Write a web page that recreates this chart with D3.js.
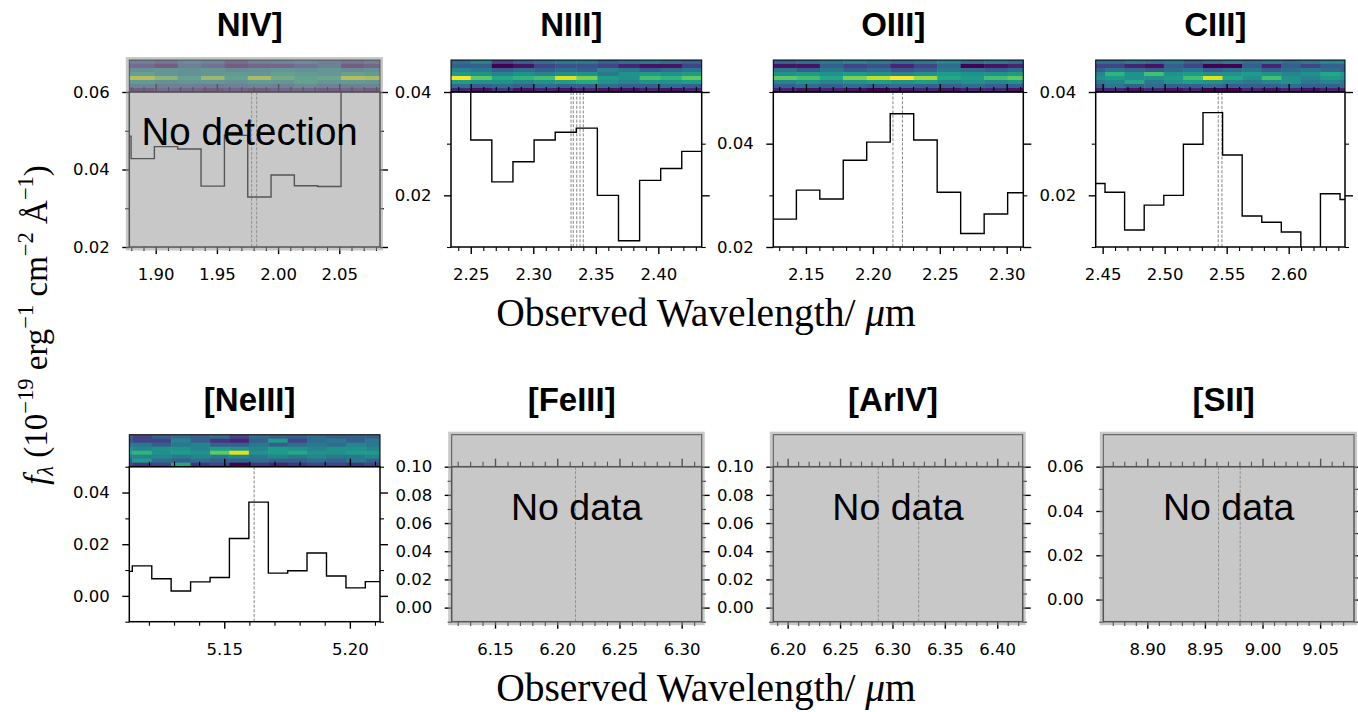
<!DOCTYPE html>
<html><head><meta charset="utf-8">
<script src="https://cdn.jsdelivr.net/npm/d3@7"></script>
<style>body{margin:0;background:#fff}svg{display:block}</style>
</head><body><svg id="c" width="1358" height="712"></svg>
<script>
// ---------------- DATA ----------------
const titles = ["NIV]", "NIII]", "OIII]", "CIII]", "[NeIII]", "[FeIII]", "[ArIV]", "[SII]"];
const notes = ["No detection", null, null, null, null, "No data", "No data", "No data"];

// spectra: bin centres (µm) and flux (1e-19 erg/s/cm2/Å)
const wlNIV   = [1.8703, 1.8894, 1.9084, 1.9275, 1.9466, 1.9657, 1.9847, 2.0038, 2.0228, 2.0419, 2.0610, 2.0800];
const fluxNIV = [0.0486, 0.0428, 0.0459, 0.0453, 0.0357, 0.0488, 0.0329, 0.0386, 0.0358, 0.0356, 0.0680, 0.0680];
const wlNIII   = [2.2416, 2.2584, 2.2753, 2.2922, 2.3091, 2.3260, 2.3428, 2.3597, 2.3766, 2.3935, 2.4103, 2.4272];
const fluxNIII = [0.0450, 0.0307, 0.0226, 0.0265, 0.0307, 0.0322, 0.0330, 0.0200, 0.0112, 0.0229, 0.0252, 0.0285];
const wlOIII   = [2.1341, 2.1516, 2.1691, 2.1866, 2.2042, 2.2217, 2.2393, 2.2568, 2.2744, 2.2919, 2.3095];
const fluxOIII = [0.0254, 0.0310, 0.0293, 0.0368, 0.0403, 0.0458, 0.0407, 0.0306, 0.0226, 0.0264, 0.0305];
const wlCIII   = [2.4440, 2.4598, 2.4756, 2.4914, 2.5072, 2.5230, 2.5388, 2.5546, 2.5704, 2.5862, 2.6019, 2.6177, 2.6335, 2.6493];
const fluxCIII = [0.0223, 0.0206, 0.0133, 0.0181, 0.0200, 0.0299, 0.0360, 0.0278, 0.0160, 0.0148, 0.0129, 0.0080, 0.0203, 0.0192];
const wlNeIII   = [5.1095, 5.1173, 5.1250, 5.1327, 5.1405, 5.1482, 5.1559, 5.1637, 5.1714, 5.1791, 5.1868, 5.1946, 5.2023, 5.2100];
const fluxNeIII = [0.0095, 0.0116, 0.0066, 0.0019, 0.0054, 0.0071, 0.0222, 0.0363, 0.0088, 0.0097, 0.0166, 0.0077, 0.0031, 0.0055];

// 2D spectrum cutouts (normalised 0-1), rows top->bottom, one column per bin
const heatNIV = [
  [0.30,0.30,0.20,0.40,0.35,0.15,0.30,0.35,0.40,0.30,0.20,0.30],
  [0.10,0.15,0.05,0.30,0.20,0.05,0.10,0.10,0.20,0.30,0.05,0.10],
  [0.40,0.45,0.50,0.45,0.50,0.40,0.45,0.50,0.45,0.50,0.40,0.45],
  [0.55,0.60,0.50,0.45,0.50,0.55,0.50,0.60,0.55,0.50,0.60,0.55],
  [0.90,0.95,0.80,0.60,0.85,0.60,0.90,0.70,0.60,0.65,0.95,0.90],
  [0.50,0.55,0.45,0.50,0.50,0.45,0.55,0.50,0.60,0.50,0.55,0.50],
  [0.30,0.35,0.30,0.30,0.25,0.30,0.35,0.30,0.40,0.30,0.30,0.35],
  [0.10,0.05,0.15,0.10,0.05,0.10,0.05,0.10,0.10,0.05,0.10,0.05]];
const heatNIII = [
  [0.35,0.45,0.20,0.30,0.35,0.40,0.40,0.30,0.35,0.40,0.35,0.30],
  [0.30,0.30,0.00,0.05,0.20,0.25,0.25,0.20,0.10,0.05,0.05,0.20],
  [0.45,0.40,0.30,0.35,0.30,0.35,0.30,0.45,0.40,0.30,0.35,0.40],
  [0.55,0.50,0.45,0.50,0.45,0.50,0.50,0.40,0.50,0.55,0.50,0.55],
  [1.00,0.75,0.60,0.65,0.70,0.95,0.80,0.55,0.50,0.70,0.65,0.75],
  [0.55,0.50,0.50,0.45,0.50,0.55,0.60,0.50,0.45,0.50,0.50,0.55],
  [0.35,0.30,0.35,0.30,0.35,0.30,0.30,0.35,0.30,0.30,0.35,0.30],
  [0.10,0.05,0.15,0.05,0.10,0.05,0.10,0.05,0.05,0.10,0.05,0.10]];
const heatOIII = [
  [0.30,0.35,0.40,0.45,0.40,0.35,0.40,0.45,0.35,0.40,0.35],
  [0.05,0.05,0.30,0.20,0.25,0.10,0.20,0.35,0.00,0.05,0.10],
  [0.40,0.30,0.40,0.30,0.35,0.25,0.30,0.40,0.35,0.30,0.35],
  [0.50,0.55,0.50,0.55,0.50,0.45,0.50,0.55,0.50,0.50,0.55],
  [0.75,0.70,0.60,0.80,0.90,1.00,0.85,0.60,0.55,0.70,0.75],
  [0.45,0.50,0.45,0.50,0.55,0.50,0.55,0.45,0.50,0.45,0.50],
  [0.30,0.35,0.30,0.35,0.30,0.35,0.30,0.30,0.35,0.30,0.30],
  [0.10,0.05,0.10,0.05,0.00,0.05,0.10,0.05,0.10,0.10,0.05]];
const heatCIII = [
  [0.35,0.35,0.40,0.35,0.40,0.30,0.35,0.40,0.35,0.40,0.35,0.40,0.45,0.45],
  [0.20,0.20,0.10,0.05,0.30,0.20,0.00,0.00,0.30,0.10,0.30,0.20,0.30,0.30],
  [0.30,0.40,0.35,0.30,0.35,0.40,0.30,0.35,0.40,0.30,0.35,0.40,0.35,0.30],
  [0.45,0.65,0.50,0.70,0.50,0.55,0.50,0.50,0.55,0.50,0.45,0.50,0.60,0.55],
  [0.50,0.55,0.50,0.50,0.55,0.70,0.95,0.60,0.50,0.70,0.50,0.45,0.55,0.50],
  [0.40,0.45,0.60,0.40,0.50,0.55,0.50,0.45,0.40,0.45,0.50,0.40,0.45,0.40],
  [0.30,0.40,0.30,0.35,0.30,0.30,0.35,0.30,0.30,0.30,0.35,0.30,0.30,0.35],
  [0.10,0.10,0.05,0.10,0.05,0.10,0.00,0.00,0.10,0.05,0.10,0.05,0.10,0.10]];
const heatNeIII = [
  [0.30,0.20,0.30,0.35,0.30,0.35,0.20,0.35,0.30,0.30,0.35,0.30,0.30,0.30],
  [0.25,0.20,0.20,0.45,0.30,0.15,0.10,0.30,0.55,0.20,0.35,0.40,0.30,0.40],
  [0.35,0.40,0.30,0.40,0.45,0.30,0.30,0.40,0.30,0.35,0.40,0.35,0.45,0.40],
  [0.50,0.45,0.50,0.50,0.45,0.55,0.50,0.45,0.55,0.50,0.45,0.50,0.50,0.45],
  [0.55,0.65,0.50,0.55,0.50,0.75,0.95,0.50,0.55,0.60,0.50,0.50,0.55,0.55],
  [0.40,0.45,0.45,0.40,0.45,0.40,0.45,0.40,0.45,0.40,0.45,0.40,0.40,0.45],
  [0.30,0.55,0.35,0.30,0.35,0.30,0.30,0.35,0.30,0.30,0.35,0.30,0.40,0.30],
  [0.20,0.15,0.20,0.60,0.15,0.20,0.00,0.15,0.10,0.15,0.20,0.20,0.15,0.20]];

// expected line positions (µm)
const markNIV   = [1.9784, 1.9825];
const markNIII  = [2.3302, 2.3320, 2.3348, 2.3374, 2.3400];
const markOIII  = [2.2150, 2.2221];
const markCIII  = [2.5432, 2.5462];
const markNeIII = [5.1619];
const markFeIII = [6.2147];
const markArIV  = [6.2865, 6.3250];
const markSII   = [8.9618, 8.9806];

// axis tick labels
const xTicksNIV = [1.90, 1.95, 2.00, 2.05];
const xTicksNIII = [2.25, 2.30, 2.35, 2.40];
const xTicksOIII = [2.15, 2.20, 2.25, 2.30];
const xTicksCIII = [2.45, 2.50, 2.55, 2.60];
const xTicksNeIII = [5.15, 5.20];
const xTicksFeIII = [6.15, 6.20, 6.25, 6.30];
const xTicksArIV = [6.20, 6.25, 6.30, 6.35, 6.40];
const xTicksSII = [8.90, 8.95, 9.00, 9.05];
const yTicksNIV = [0.02, 0.04, 0.06];
const yTicksNIII = [0.02, 0.04];
const yTicksOIII = [0.02, 0.04];
const yTicksCIII = [0.02, 0.04];
const yTicksNeIII = [0.00, 0.02, 0.04];
const yTicksFeIII = [0.00, 0.02, 0.04, 0.06, 0.08, 0.10];
const yTicksArIV = [0.00, 0.02, 0.04, 0.06, 0.08, 0.10];
const yTicksSII = [0.00, 0.02, 0.04, 0.06];

const xLabel = "Observed Wavelength/ ";

// ---------------- LAYOUT ----------------
const rowTop = [92, 466.7], plotH = 155, heatH = 32;
const panels = [
  {x0:129.3, x1:380,    row:0, xd:[1.8784,2.0833], yd:[0.02,0.06],  wl:wlNIV,   fl:fluxNIV,   heat:heatNIV,   mark:markNIV,   xt:xTicksNIV,   yt:yTicksNIV,   gray:true, noteDx:-5},
  {x0:451,   x1:701.7,  row:0, xd:[2.2342,2.4347], yd:[0.01,0.04],  wl:wlNIII,  fl:fluxNIII,  heat:heatNIII,  mark:markNIII,  xt:xTicksNIII,  yt:yTicksNIII},
  {x0:773.3, x1:1023.3, row:0, xd:[2.1256,2.3124], yd:[0.02,0.05],  wl:wlOIII,  fl:fluxOIII,  heat:heatOIII,  mark:markOIII,  xt:xTicksOIII,  yt:yTicksOIII},
  {x0:1095.7,x1:1345,   row:0, xd:[2.4444,2.6454], yd:[0.01,0.04],  wl:wlCIII,  fl:fluxCIII,  heat:heatCIII,  mark:markCIII,  xt:xTicksCIII,  yt:yTicksCIII},
  {x0:129.3, x1:380,    row:1, xd:[5.1122,5.2120], yd:[-0.01,0.05], wl:wlNeIII, fl:fluxNeIII, heat:heatNeIII, mark:markNeIII, xt:xTicksNeIII, yt:yTicksNeIII},
  {x0:451.7, x1:701.7,  row:1, xd:[6.1152,6.3161], yd:[-0.01,0.10], mark:markFeIII, xt:xTicksFeIII, yt:yTicksFeIII, gray:true, noteDx:0},
  {x0:773.3, x1:1022.7, row:1, xd:[6.1863,6.4243], yd:[-0.01,0.10], mark:markArIV,  xt:xTicksArIV,  yt:yTicksArIV,  gray:true, noteDx:0},
  {x0:1103.3,x1:1354,   row:1, xd:[8.8618,9.0794], yd:[-0.01,0.06], mark:markSII,   xt:xTicksSII,   yt:yTicksSII,   gray:true, noteDx:0}
];

const svg = d3.select("#c");
const tickFont = "DejaVu Sans";

function minorVals(d, majors) {
  const a = Math.ceil(d[0] * 100 - 1e-6), b = Math.floor(d[1] * 100 + 1e-6);
  return d3.range(a, b + 1).map(k => k / 100).filter(v => !majors.some(m => Math.abs(m - v) < 1e-6));
}
function edges(xs) {
  const n = xs.length;
  return xs.map((c, i) => {
    const l = i === 0 ? c - (xs[1] - xs[0]) / 2 : (xs[i - 1] + c) / 2;
    const r = i === n - 1 ? c + (c - xs[n - 2]) / 2 : (c + xs[i + 1]) / 2;
    return [l, r];
  });
}
function styleAxis(g, w) {
  g.select(".domain").remove();
  g.selectAll(".tick line").attr("stroke", "#000").attr("stroke-width", w);
  g.selectAll("text").attr("font-family", tickFont).attr("font-size", 16.5).attr("fill", "#000");
}

panels.forEach((p, i) => {
  const top = rowTop[p.row], bottom = top + plotH, heatTop = top - heatH;
  const x = d3.scaleLinear().domain(p.xd).range([p.x0, p.x1]);
  const y = d3.scaleLinear().domain(p.yd).range([bottom, top]);
  const g = svg.append("g");
  const clipId = "clip" + i, hclipId = "hclip" + i;
  svg.append("clipPath").attr("id", clipId).append("rect")
    .attr("x", p.x0).attr("y", top).attr("width", p.x1 - p.x0).attr("height", plotH);
  svg.append("clipPath").attr("id", hclipId).append("rect")
    .attr("x", p.x0).attr("y", heatTop).attr("width", p.x1 - p.x0).attr("height", heatH);

  // heatmap
  if (p.heat) {
    const ed = edges(p.wl);
    const rh = heatH / p.heat.length;
    const hg = g.append("g").attr("clip-path", `url(#${hclipId})`);
    p.heat.forEach((row, r) => {
      hg.selectAll(null).data(row).enter().append("rect")
        .attr("x", (v, c) => x(ed[c][0]))
        .attr("width", (v, c) => x(ed[c][1]) - x(ed[c][0]) + 0.5)
        .attr("y", heatTop + r * rh).attr("height", rh + 0.3)
        .attr("fill", v => d3.interpolateViridis(v));
    });
  }
  g.append("rect").attr("x", p.x0).attr("y", heatTop).attr("width", p.x1 - p.x0).attr("height", heatH)
    .attr("fill", "none").attr("stroke", "#000").attr("stroke-width", 1);

  // line markers
  g.append("g").attr("clip-path", `url(#${clipId})`).selectAll("line").data(p.mark).enter().append("line")
    .attr("x1", d => x(d)).attr("x2", d => x(d)).attr("y1", top).attr("y2", bottom)
    .attr("stroke", "#858585").attr("stroke-width", 1).attr("stroke-dasharray", "3,1.6");

  // spectrum step line
  if (p.wl) {
    const ed = edges(p.wl);
    const pts = [];
    p.fl.forEach((v, k) => { pts.push([ed[k][0], v]); pts.push([ed[k][1], v]); });
    g.append("path").attr("clip-path", `url(#${clipId})`)
      .attr("d", d3.line().x(d => x(d[0])).y(d => y(d[1]))(pts))
      .attr("fill", "none").attr("stroke", "#000").attr("stroke-width", 1.4);
  }

  // axes
  const xMinor = minorVals(p.xd, p.xt), yMinor = minorVals(p.yd, p.yt);
  const fmt = d3.format(".2f");
  g.append("g").attr("transform", `translate(0,${bottom})`)
    .call(d3.axisBottom(x).tickValues(p.xt).tickSize(7).tickPadding(14.5).tickFormat(fmt)).call(a => styleAxis(a, 1.4));
  g.append("g").attr("transform", `translate(0,${bottom})`)
    .call(d3.axisBottom(x).tickValues(xMinor).tickSize(4).tickFormat("")).call(a => styleAxis(a, 1.1));
  g.append("g").attr("transform", `translate(0,${top})`)
    .call(d3.axisTop(x).tickValues(p.xt).tickSize(8).tickFormat("")).call(a => styleAxis(a, 1.4));
  g.append("g").attr("transform", `translate(0,${top})`)
    .call(d3.axisTop(x).tickValues(xMinor).tickSize(5).tickFormat("")).call(a => styleAxis(a, 1.1));
  g.append("g").attr("transform", `translate(${p.x0},0)`)
    .call(d3.axisLeft(y).tickValues(p.yt).tickSize(7).tickPadding(12.5).tickFormat(fmt)).call(a => styleAxis(a, 1.4));
  g.append("g").attr("transform", `translate(${p.x0},0)`)
    .call(d3.axisLeft(y).tickValues(yMinor).tickSize(4).tickFormat("")).call(a => styleAxis(a, 1.1));
  g.append("g").attr("transform", `translate(${p.x1},0)`)
    .call(d3.axisRight(y).tickValues(p.yt).tickSize(8).tickFormat("")).call(a => styleAxis(a, 1.4));
  g.append("g").attr("transform", `translate(${p.x1},0)`)
    .call(d3.axisRight(y).tickValues(yMinor).tickSize(4).tickFormat("")).call(a => styleAxis(a, 1.1));
  // frame
  g.append("rect").attr("x", p.x0).attr("y", top).attr("width", p.x1 - p.x0).attr("height", plotH)
    .attr("fill", "none").attr("stroke", "#000").attr("stroke-width", 1.5);

  // gray overlay for panels without detection / data
  if (p.gray) {
    g.append("rect").attr("x", p.x0 - 3.5).attr("y", heatTop - 3).attr("width", p.x1 - p.x0 + 6.5)
      .attr("height", plotH + heatH + 6.5).attr("fill", "rgb(155,155,155)").attr("fill-opacity", 0.55);
  }
  if (notes[i]) {
    g.append("text").attr("x", (p.x0 + p.x1) / 2 + p.noteDx).attr("y", top + 53).attr("text-anchor", "middle")
      .attr("font-family", "Liberation Sans").attr("font-size", i === 0 ? 38.5 : 37.5).attr("fill", "#000").text(notes[i]);
  }
  // title
  g.append("text").attr("x", (p.x0 + p.x1) / 2 - 5).attr("y", heatTop - 24).attr("text-anchor", "middle")
    .attr("font-family", "Liberation Sans").attr("font-weight", "bold").attr("font-size", 33).attr("fill", "#000")
    .text(titles[i]);
});

// x labels
[326, 701].forEach(yb => {
  const t = svg.append("text").attr("x", 706).attr("y", yb).attr("text-anchor", "middle")
    .attr("font-family", "Liberation Serif").attr("font-size", 39.5).attr("fill", "#000");
  t.append("tspan").text(xLabel);
  t.append("tspan").attr("font-style", "italic").text("\u03bc");
  t.append("tspan").text("m");
});

// y label
const yl = svg.append("text").attr("transform", "translate(47,325) rotate(-90)").attr("text-anchor", "middle")
  .attr("font-family", "Liberation Serif").attr("font-size", 33).attr("fill", "#000");
yl.append("tspan").attr("font-style", "italic").text("f");
yl.append("tspan").attr("font-style", "italic").attr("font-size", 22.5).attr("dy", 6).text("\u03bb");
yl.append("tspan").attr("dy", -6).text(" (10");
yl.append("tspan").attr("font-size", 22.5).attr("dy", -14).text("\u221219");
yl.append("tspan").attr("dy", 14).text(" erg");
yl.append("tspan").attr("font-size", 22.5).attr("dy", -14).text("\u22121");
yl.append("tspan").attr("dy", 14).text(" cm");
yl.append("tspan").attr("font-size", 22.5).attr("dy", -14).text("\u22122");
yl.append("tspan").attr("dy", 14).text(" \u00c5");
yl.append("tspan").attr("font-size", 22.5).attr("dy", -14).text("\u22121");
yl.append("tspan").attr("dy", 14).text(")");
</script></body></html>
